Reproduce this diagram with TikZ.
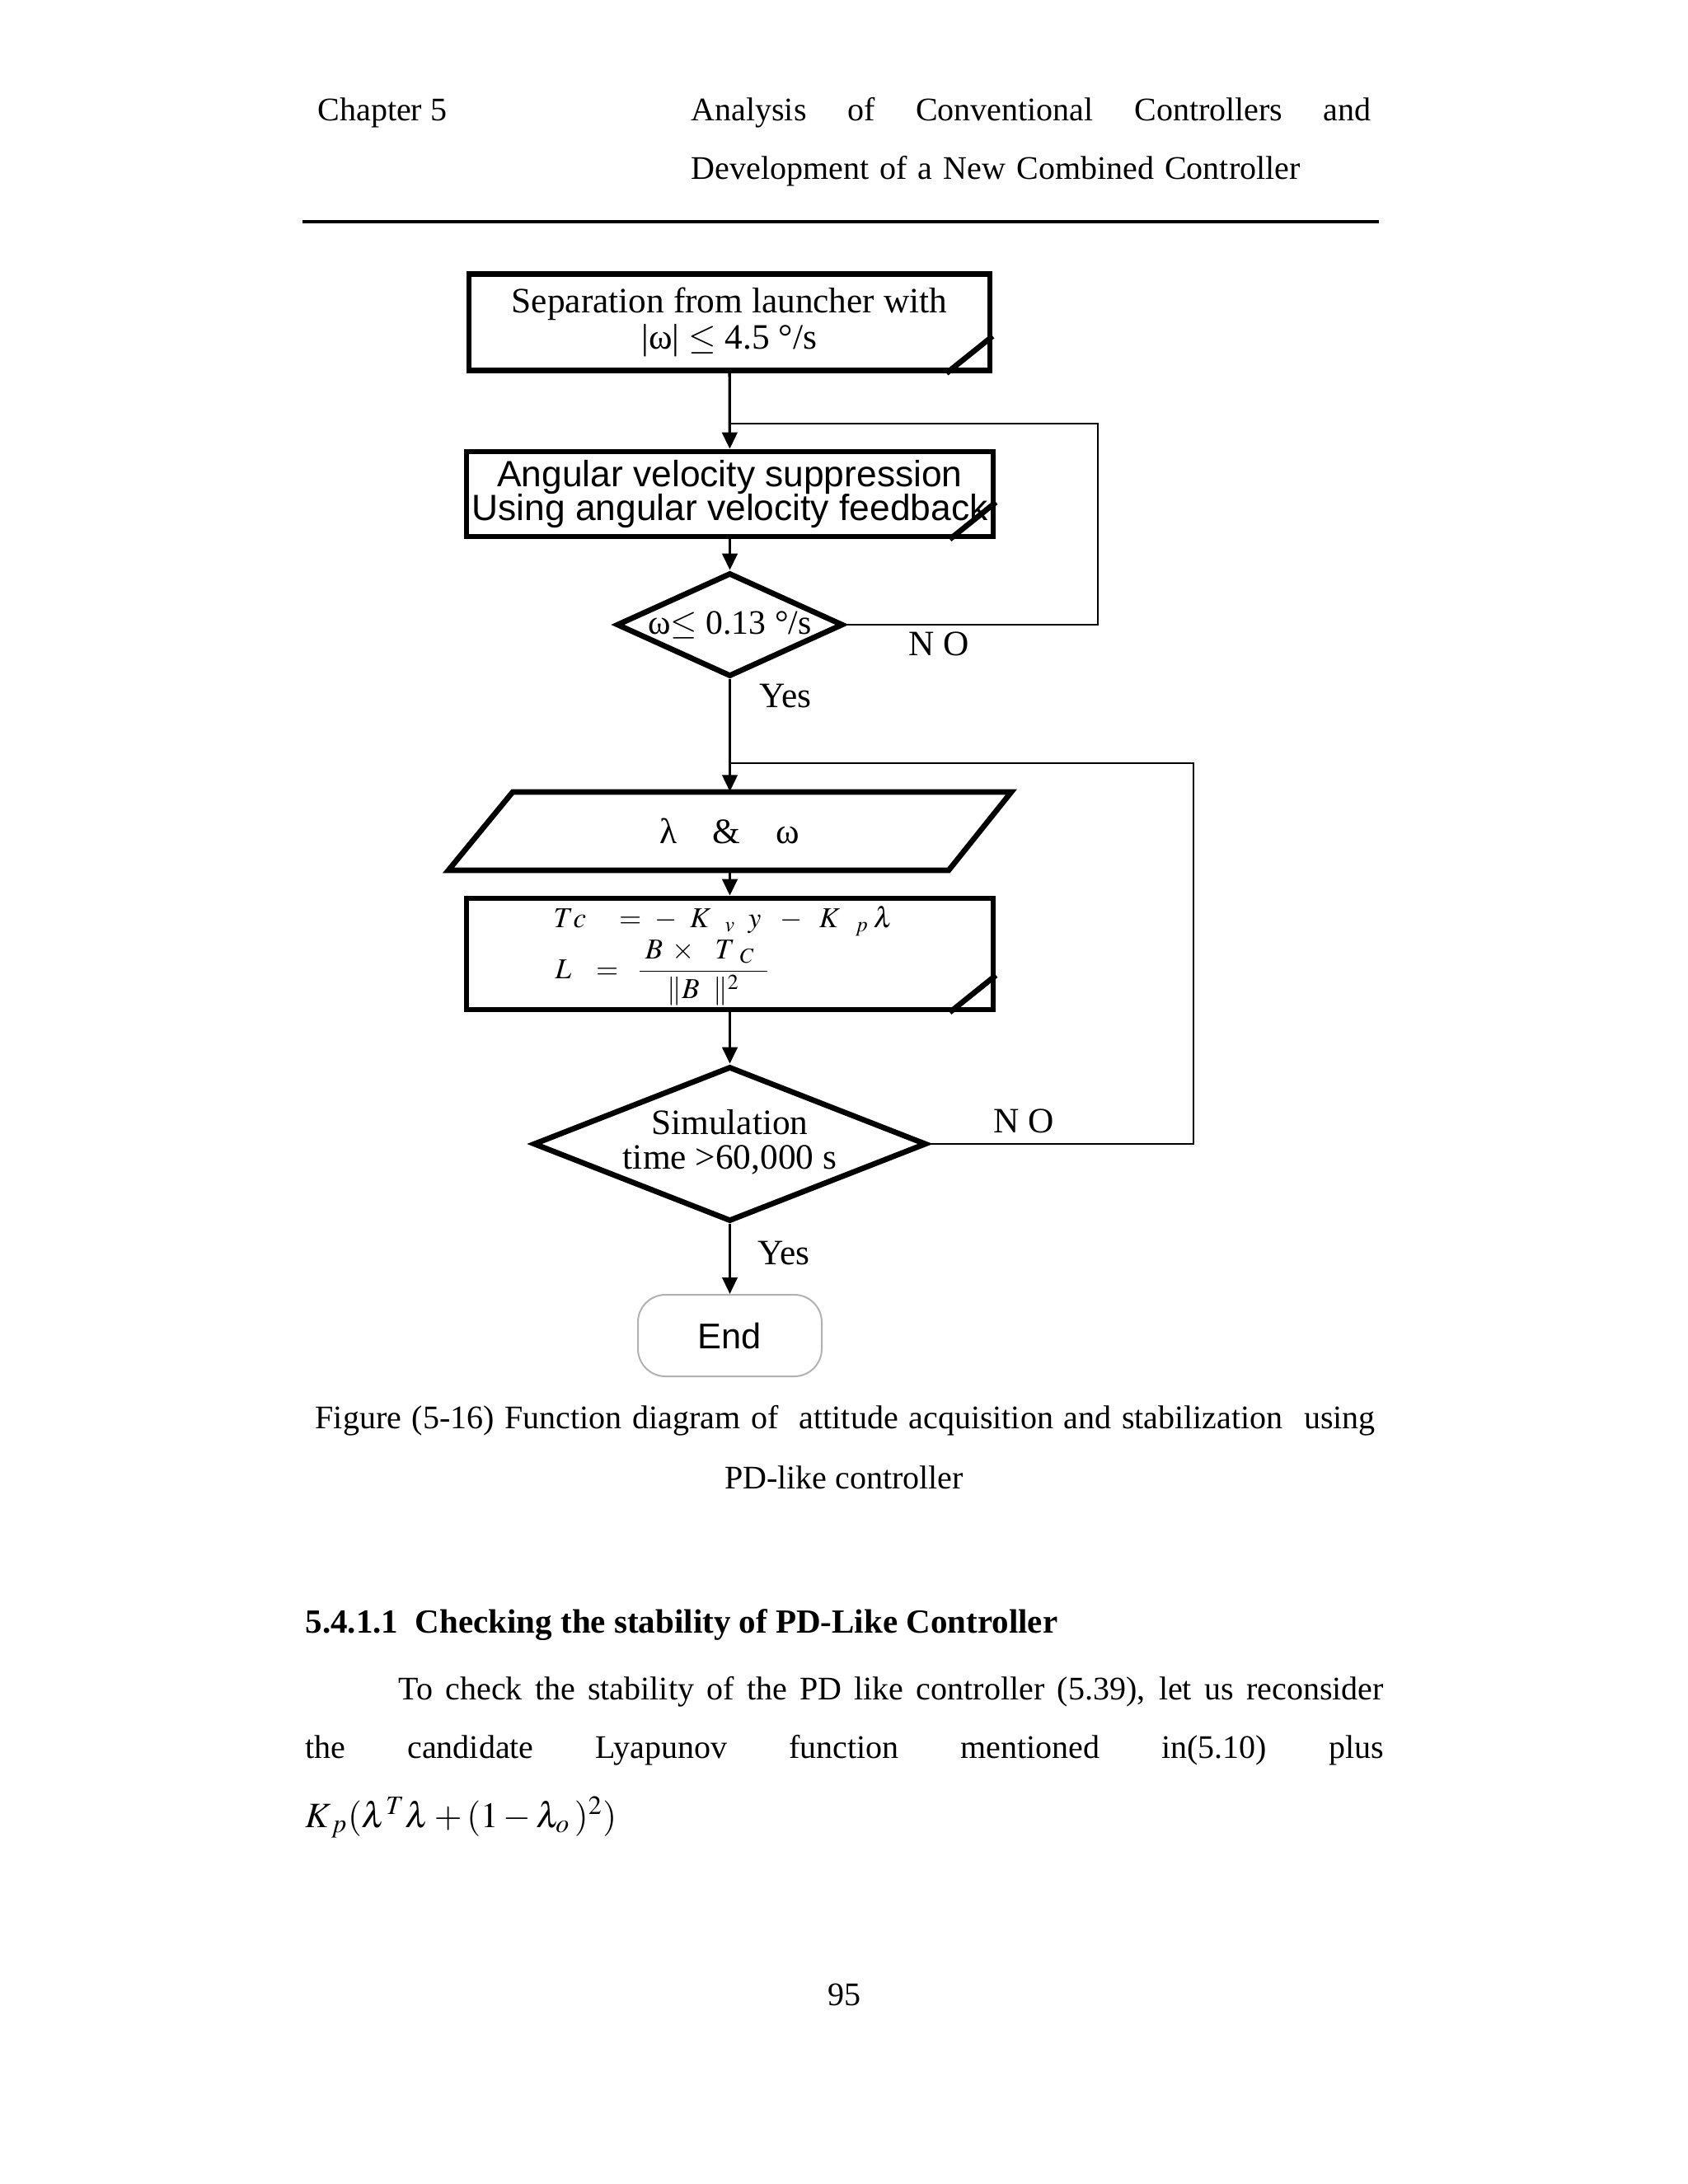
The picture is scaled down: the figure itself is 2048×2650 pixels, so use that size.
\documentclass[tikz,border=0pt]{standalone}
\usepackage{amsmath}
\usepackage{mathptmx}
\usepackage{fontspec}
\setmainfont{Liberation Serif}
\setsansfont{Liberation Sans}
\usetikzlibrary{arrows.meta,positioning,calc,shapes.geometric}

\begin{document}
\begin{tikzpicture}[x=0.3pt, y=-0.3pt,
  box/.style={draw, line width=2pt, inner sep=0pt, align=center,
    font=\fontsize{13}{13}\selectfont},
  dia/.style={draw, diamond, line width=2pt, inner sep=0pt},
  ftxt/.style={inner sep=0pt, align=center, font=\fontsize{13}{12.5}\selectfont},
  ptxt/.style={inner sep=0pt, font=\fontsize{12}{14}\selectfont},
  eqn/.style={inner sep=0pt, font=\fontsize{10.5}{12}\selectfont},
  arr/.style={line width=1pt, -{Triangle[length=6pt,width=5.5pt]}},
  lp/.style={line width=0.8pt}]
\fill[white] (0,0) rectangle (2048,2650);
\useasboundingbox (0,0) rectangle (2048,2650);

% page header
\node[ptxt, anchor=west] (chap) at (385,137) {Chapter 5};
\node[ptxt, anchor=west] (hd1) at (838,137)
  {\makebox[247.5pt][s]{Analysis of Conventional Controllers and}};
\node[ptxt, anchor=west] (hd2) at (838,208)
  {\makebox[221.7pt][s]{Development of a New Combined Controller}};
\draw[line width=1pt] (367,269) -- (1673,269);

% flowchart
\node[box, minimum width=189.6pt, minimum height=35.1pt] (b1) at (885,391)
  {Separation from launcher with\\|ω| $\leq$ 4.5 °/s};
\node[box, font=\sffamily\fontsize{13.3}{12.5}\selectfont, minimum width=191.7pt,
  minimum height=30.9pt] (b2) at (885.5,599.5)
  {Angular velocity suppression\\Using angular velocity feedback};
\node[dia, minimum width=82.5pt, minimum height=37.8pt] (d1) at (885.5,758) {};
\node[ftxt, font=\fontsize{12.5}{12.5}\selectfont] (d1t) at (d1) {ω$\leq$ 0.13 °/s};
\node[ftxt, minimum width=181.8pt, minimum height=28.5pt] (io) at (885.5,1008.5)
  {λ\hspace{13pt}\&\hspace{13pt}ω};
\draw[line width=2pt] ($(io.center)+(-263.5,-47.5)$) -- ($(io.center)+(341.5,-47.5)$)
  -- ($(io.center)+(265.5,47.5)$) -- ($(io.center)+(-341.5,47.5)$) -- cycle;
\node[box, minimum width=191.7pt, minimum height=40.5pt] (b3) at (885.5,1157.5) {};
\node[eqn, anchor=base west] (eq1) at (671,1125)
  {$Tc$\hspace{12pt}$=$\hspace{5pt}$-$\hspace{4.5pt}$K_{\hspace{6pt}v}$\hspace{4.5pt}$y$\hspace{7pt}$-$\hspace{6pt}$K_{\hspace{6.5pt}p}$\hspace{1.5pt}$\lambda$};
\node[eqn, anchor=base west] (eq2) at (673,1187)
  {$L$\hspace{9pt}$=$\hspace{6.5pt}$\dfrac{\makebox[46.5pt][l]{\hspace{2pt}$B\hspace{2pt}\times\hspace{6pt}T_{\hspace{4pt}C}$}}{\lVert B\hspace{5pt}\rVert^{2}}$};
\node[dia, minimum width=143.1pt, minimum height=56.4pt] (d2) at (885.5,1388) {};
\node[ftxt] (d2t) at (885.5,1385.5) {Simulation\\time >60,000 s};
\node[draw=gray!60, line width=0.6pt, rounded corners=10pt, minimum width=66.9pt,
  minimum height=29.7pt, inner sep=0pt, font=\sffamily\fontsize{13}{15}\selectfont]
  (end) at (885.5,1620.5) {End};
\foreach \n in {b1,b2,b3}
  \draw[line width=2pt] ($(\n.south east)+(-56,0)$) -- ($(\n.south east)+(0,-45)$);

% branch labels
\node[ftxt] (no1) at (1139,781) {N O};
\node[ftxt] (yes1) at (953,845) {Yes};
\node[ftxt] (no2) at (1242,1360) {N O};
\node[ftxt] (yes2) at (951,1521) {Yes};

% connectors
\coordinate (j1) at (885.5,514);
\coordinate (r1) at (1332,514);
\coordinate (j2) at (885.5,926);
\coordinate (r2) at (1448,926);
\draw[arr] (b1) -- (b2);
\draw[arr] (b2) -- (d1);
\draw[arr] (d1) -- (io);
\draw[arr] (io) -- (b3);
\draw[arr] (b3) -- (d2);
\draw[arr] (d2) -- (end);
\draw[lp] (d1.east) -| (r1) -- (j1);
\draw[lp] (d2.east) -| (r2) -- (j2);

% caption and text
\node[ptxt, anchor=west] (cap1) at (382,1724)
  {\makebox[385.8pt][s]{Figure (5-16) Function diagram of\ \ attitude acquisition and stabilization\ \ using}};
\node[ptxt] (cap2) at (1024,1793) {PD-like controller};
\node[ptxt, anchor=west, font=\bfseries\fontsize{12.3}{14}\selectfont] (sec) at (370,1972)
  {5.4.1.1\ \ Checking the stability of PD-Like Controller};
\node[ptxt, anchor=west] (par1) at (483,2053)
  {\makebox[358.5pt][s]{To check the stability of the PD like controller (5.39), let us reconsider}};
\node[ptxt, anchor=west] (par2) at (370,2124)
  {\makebox[392.4pt][s]{the candidate Lyapunov function mentioned in(5.10) plus}};
\node[ptxt, anchor=west, font=\fontsize{13}{16}\selectfont] (lyap) at (370,2205)
  {$K_{\,p}(\lambda^T\lambda+(1-\lambda_o\,)^2)$};
\node[ptxt] (pg) at (1024,2420) {95};
\end{tikzpicture}
\end{document}
